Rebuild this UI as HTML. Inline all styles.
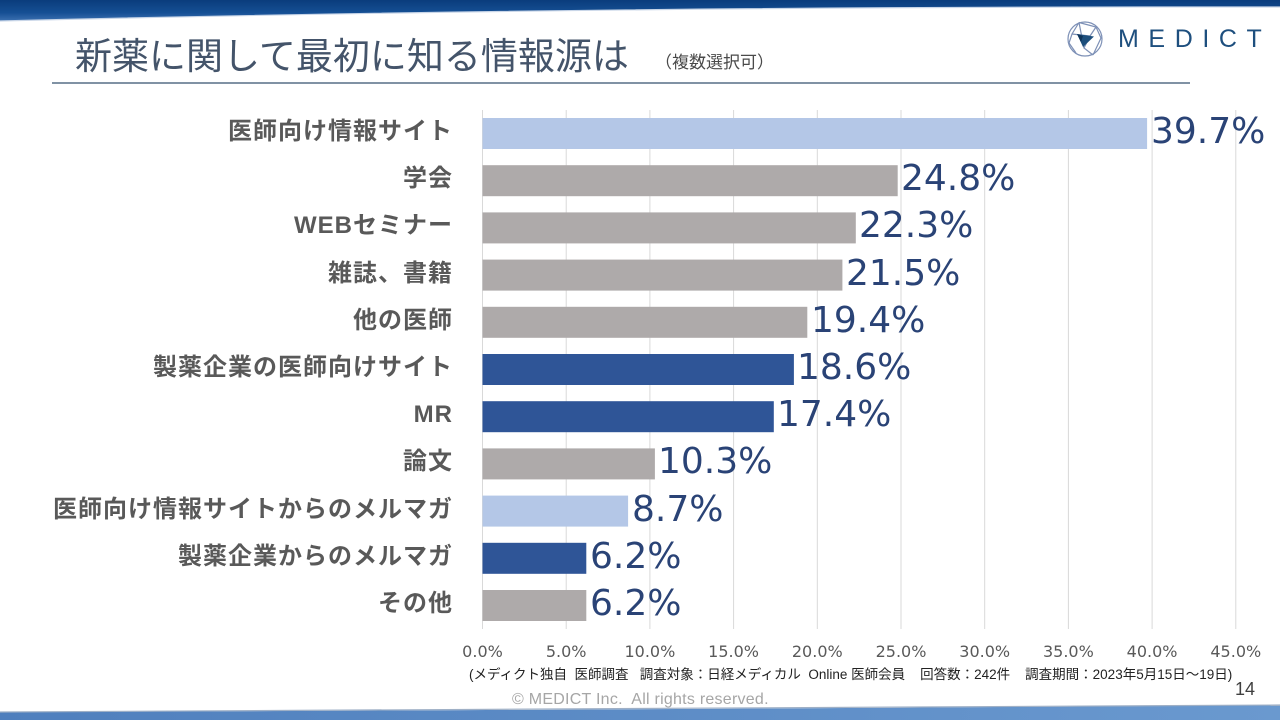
<!DOCTYPE html>
<html lang="ja">
<head>
<meta charset="utf-8">
<style>
  html,body{margin:0;padding:0;}
  body{width:1280px;height:720px;position:relative;overflow:hidden;background:#fff;
       font-family:"Liberation Sans","Noto Sans CJK JP",sans-serif;}
  .abs{position:absolute;white-space:nowrap;}
  .lbl{position:absolute;right:827px;font-size:24px;line-height:24px;font-weight:bold;color:#595959;
       letter-spacing:1px;font-family:"Liberation Sans","Noto Sans CJK JP",sans-serif;text-align:right;white-space:nowrap;}
  .val{position:absolute;font-family:"DejaVu Sans",sans-serif;font-size:36px;line-height:36px;color:#2a4376;white-space:nowrap;}
  .tick{position:absolute;top:644px;width:80px;margin-left:-40px;text-align:center;font-family:"DejaVu Sans",sans-serif;
        font-size:16px;line-height:16px;color:#595959;}
</style>
</head>
<body>

<svg class="abs" style="left:0;top:0" width="1280" height="720" viewBox="0 0 1280 720">
  <defs>
    <linearGradient id="tg" x1="0" y1="0" x2="0" y2="1">
      <stop offset="0" stop-color="#0a3c7c"/>
      <stop offset="0.6" stop-color="#154f94"/>
      <stop offset="1" stop-color="#3b70b0"/>
    </linearGradient>
    <linearGradient id="bg" x1="0" y1="0" x2="1" y2="0">
      <stop offset="0" stop-color="#4f7fbd"/>
      <stop offset="1" stop-color="#6a99cf"/>
    </linearGradient>
  </defs>
  <path d="M0,0 L1280,0 L1280,7 Q600,6 0,21 Z" fill="url(#tg)"/>
  <path d="M0,21 Q600,6 1280,7" fill="none" stroke="#c9d6e8" stroke-width="1.2"/>
  <path d="M0,712 Q640,710 1280,705 L1280,720 L0,720 Z" fill="url(#bg)"/>
  <path d="M0,712 Q640,710 1280,705" fill="none" stroke="#9fb0c6" stroke-width="1.2"/>

  <line x1="52" y1="83" x2="1190" y2="83" stroke="#34506e" stroke-width="1.2"/>

  <g fill="none" stroke="#7d90b6" stroke-width="1.2">
    <circle cx="1085" cy="39" r="17"/>
    <polyline points="1079,22.5 1096,27 1101,38 1093,55"/>
    <polyline points="1079,22.5 1072,34 1069,43 1076,53"/>
    <polyline points="1072,34 1090,36 1084,48 1093,55"/>
    <line x1="1079" y1="22.5" x2="1084" y2="48"/>
    <line x1="1096" y1="27" x2="1090" y2="36"/>
  </g>
  <polygon points="1077,34 1094,36.5 1083,47" fill="#1d4f7d"/>
  <polygon points="1077,34 1083,36 1081,42" fill="#0e3358"/>

  <g stroke="#d9d9d9" stroke-width="1">
    <line x1="482.5" y1="110" x2="482.5" y2="629"/>
    <line x1="566.2" y1="110" x2="566.2" y2="629"/>
    <line x1="649.9" y1="110" x2="649.9" y2="629"/>
    <line x1="733.6" y1="110" x2="733.6" y2="629"/>
    <line x1="817.3" y1="110" x2="817.3" y2="629"/>
    <line x1="901.0" y1="110" x2="901.0" y2="629"/>
    <line x1="984.7" y1="110" x2="984.7" y2="629"/>
    <line x1="1068.4" y1="110" x2="1068.4" y2="629"/>
    <line x1="1152.1" y1="110" x2="1152.1" y2="629"/>
    <line x1="1235.8" y1="110" x2="1235.8" y2="629"/>
  </g>

  <rect x="482.5" y="118"   width="664.6" height="31" fill="#b4c7e7"/>
  <rect x="482.5" y="165.2" width="415.2" height="31" fill="#aeaaaa"/>
  <rect x="482.5" y="212.4" width="373.3" height="31" fill="#aeaaaa"/>
  <rect x="482.5" y="259.6" width="359.9" height="31" fill="#aeaaaa"/>
  <rect x="482.5" y="306.8" width="324.8" height="31" fill="#aeaaaa"/>
  <rect x="482.5" y="354"   width="311.4" height="31" fill="#2f5597"/>
  <rect x="482.5" y="401.2" width="291.3" height="31" fill="#2f5597"/>
  <rect x="482.5" y="448.4" width="172.4" height="31" fill="#aeaaaa"/>
  <rect x="482.5" y="495.6" width="145.6" height="31" fill="#b4c7e7"/>
  <rect x="482.5" y="542.8" width="103.8" height="31" fill="#2f5597"/>
  <rect x="482.5" y="590"   width="103.8" height="31" fill="#aeaaaa"/>
</svg>

<div class="abs" style="left:75px;top:38px;font-size:37px;line-height:37px;color:#44546a;font-family:'Liberation Sans','Noto Sans CJK JP',sans-serif;">新薬に関して最初に知る情報源は</div>
<div class="abs" style="left:655px;top:54px;font-size:17px;line-height:17px;color:#4a4a4a;font-family:'Liberation Sans','Noto Sans CJK JP',sans-serif;">（複数選択可）</div>

<div class="abs" style="left:1118px;top:27px;font-size:25px;line-height:25px;letter-spacing:9.6px;color:#1e4f7e;font-family:'Liberation Sans',sans-serif;">MEDICT</div>

<div class="lbl" style="top:120px;">医師向け情報サイト</div>
<div class="lbl" style="top:167px;">学会</div>
<div class="lbl" style="top:214px;">WEBセミナー</div>
<div class="lbl" style="top:261.6px;">雑誌、書籍</div>
<div class="lbl" style="top:308.8px;">他の医師</div>
<div class="lbl" style="top:356px;">製薬企業の医師向けサイト</div>
<div class="lbl" style="top:403.2px;">MR</div>
<div class="lbl" style="top:450.4px;">論文</div>
<div class="lbl" style="top:497.6px;">医師向け情報サイトからのメルマガ</div>
<div class="lbl" style="top:544.8px;">製薬企業からのメルマガ</div>
<div class="lbl" style="top:592px;">その他</div>

<div class="val" style="left:1151px;top:114px;">39.7%</div>
<div class="val" style="left:901px;top:161.2px;">24.8%</div>
<div class="val" style="left:859px;top:208.4px;">22.3%</div>
<div class="val" style="left:846px;top:255.6px;">21.5%</div>
<div class="val" style="left:811px;top:302.8px;">19.4%</div>
<div class="val" style="left:797px;top:350px;">18.6%</div>
<div class="val" style="left:777px;top:397.2px;">17.4%</div>
<div class="val" style="left:658px;top:444.4px;">10.3%</div>
<div class="val" style="left:632px;top:491.6px;">8.7%</div>
<div class="val" style="left:590px;top:538.8px;">6.2%</div>
<div class="val" style="left:590px;top:586px;">6.2%</div>

<div class="tick" style="left:482.5px;">0.0%</div>
<div class="tick" style="left:566.2px;">5.0%</div>
<div class="tick" style="left:649.9px;">10.0%</div>
<div class="tick" style="left:733.6px;">15.0%</div>
<div class="tick" style="left:817.3px;">20.0%</div>
<div class="tick" style="left:901px;">25.0%</div>
<div class="tick" style="left:984.7px;">30.0%</div>
<div class="tick" style="left:1068.4px;">35.0%</div>
<div class="tick" style="left:1152.1px;">40.0%</div>
<div class="tick" style="left:1235.8px;">45.0%</div>

<div class="abs" style="left:469px;top:667px;font-size:13.5px;line-height:15px;color:#222;font-family:'Liberation Sans','Noto Sans CJK JP',sans-serif;">(メディクト独自&nbsp; 医師調査&nbsp;&nbsp; 調査対象：日経メディカル&nbsp; Online 医師会員&nbsp;&nbsp;&nbsp; 回答数：242件&nbsp;&nbsp;&nbsp; 調査期間：2023年5月15日～19日)</div>

<div class="abs" style="left:1235px;top:680px;font-size:18px;line-height:18px;color:#404040;font-family:'Liberation Sans',sans-serif;">14</div>

<div class="abs" style="left:512px;top:692px;font-size:16px;line-height:16px;letter-spacing:0.25px;color:#a6a6a6;font-family:'Liberation Sans',sans-serif;">© MEDICT Inc.&nbsp; All rights reserved.</div>

</body>
</html>
